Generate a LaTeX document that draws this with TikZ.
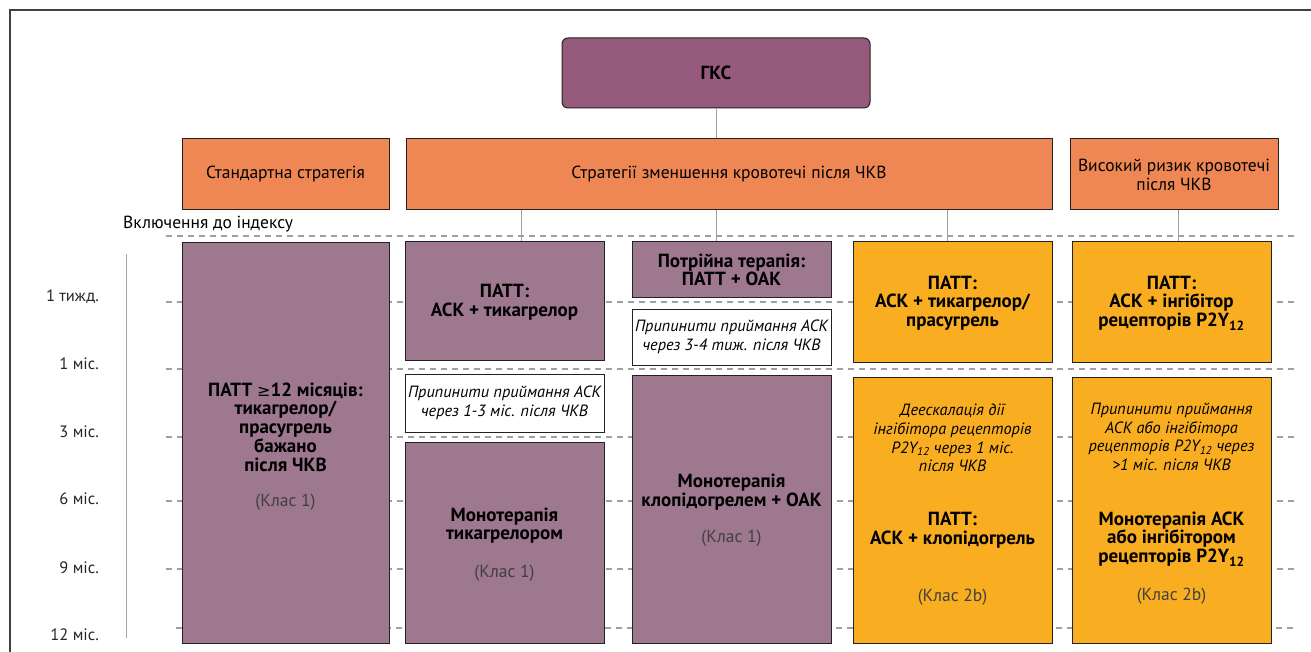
\documentclass[tikz,border=0pt]{standalone}
\usepackage{fontspec}
\setmainfont{PT Sans}
\newfontfamily\symf{DejaVu Sans}
\usetikzlibrary{fit}
\definecolor{gksc}{HTML}{965A7C}
\definecolor{purc}{HTML}{9D788F}
\definecolor{orac}{HTML}{EE8753}
\definecolor{yelc}{HTML}{F9AE21}
\definecolor{grc}{HTML}{A0A0A0}
\definecolor{edgec}{HTML}{222222}
\newcommand\subsc[1]{\textsubscript{#1}}
\tikzset{
 boxs/.style={draw=edgec, line width=1pt, inner sep=0pt},
 reg/.style={font=\fontsize{17.5}{19}\selectfont, align=center, inner sep=0pt},
 bld/.style={font=\fontsize{19}{18.7}\selectfont\bfseries, align=center, inner sep=0pt},
 itl/.style={font=\fontsize{16.3}{18.7}\selectfont\itshape, align=center, inner sep=0pt},
 cls/.style={font=\fontsize{17.5}{19}\selectfont, text=black!75, inner sep=0pt},
 tlab/.style={font=\fontsize{16.5}{19}\selectfont, text=black!85, anchor=east, inner sep=0pt},
 gridl/.style={draw=grc, line width=1.5pt, dash pattern=on 6pt off 5pt},
 conn/.style={draw=grc, line width=1pt},
}
\begin{document}
\begin{tikzpicture}[x=1pt,y=-1pt]
\useasboundingbox (0,0) rectangle (1311,652);
\fill[white] (0,0) rectangle (1311,652);
% frame
\draw[line width=1.5pt, draw=black!75] (10,652) -- (10,10) -- (1311,10);
% grid lines
\foreach \yy in {236,302,369,437,501,569} \draw[gridl] (166,\yy) -- (1296,\yy);
\draw[gridl] (176,628) -- (1296,628);
% time axis
\draw[conn, draw=black!35] (126,254) -- (126,638);
\node[tlab] (t1) at (99,297) {1 тижд.};
\node[tlab] (t2) at (99,364) {1 міс.};
\node[tlab] (t3) at (99,432) {3 міс.};
\node[tlab] (t4) at (99,499) {6 міс.};
\node[tlab] (t5) at (99,568) {9 міс.};
\node[tlab] (t6) at (99,635) {12 міс.};
\node[reg, anchor=west] (incl) at (123,224) {Включення до індексу};
% top boxes
\node[boxs, fill=gksc, rounded corners=6pt, fit={(562,38) (870,108)}] (gks) {};
\node[bld] at (gks.center) {ГКС};
\node[boxs, fill=orac, fit={(182,139) (389,210)}] (std) {};
\node[reg] at (std.center) {Стандартна стратегія};
\node[boxs, fill=orac, fit={(406,139) (1052,210)}] (red) {};
\node[reg] at (red.center) {Стратегії зменшення кровотечі після ЧКВ};
\node[boxs, fill=orac, fit={(1070,139) (1278,210)}] (hbr) {};
\node[reg] at (hbr.center) {Високий ризик кровотечі\\після ЧКВ};
% column boxes
\node[boxs, fill=purc, fit={(182,243) (389,643)}] (c1) {};
\node[boxs, fill=purc, fit={(405,242) (604,360)}] (c2a) {};
\node[boxs, fill=white, fit={(405,374) (604,432)}] (c2b) {};
\node[boxs, fill=purc, fit={(405,442) (604,643)}] (c2c) {};
\node[boxs, fill=purc, fit={(632,242) (831,297)}] (c3a) {};
\node[boxs, fill=white, fit={(632,309) (831,365)}] (c3b) {};
\node[boxs, fill=purc, fit={(632,375) (831,643)}] (c3c) {};
\node[boxs, fill=yelc, fit={(853,242) (1052,362)}] (c4a) {};
\node[boxs, fill=yelc, fit={(853,377) (1052,643)}] (c4b) {};
\node[boxs, fill=yelc, fit={(1072,242) (1271,362)}] (c5a) {};
\node[boxs, fill=yelc, fit={(1072,377) (1271,643)}] (c5b) {};
% connectors
\coordinate (xa) at (716,0);
\coordinate (xb) at (521,0);
\coordinate (xc) at (947,0);
\coordinate (xd) at (1178,0);
\draw[conn] (gks.south -| xa) -- (red.north -| xa);
\draw[conn] (red.south -| xb) -- (c2a.north -| xb);
\draw[conn] (red.south -| xa) -- (c3a.north -| xa);
\draw[conn] (red.south -| xc) -- (c4a.north -| xc);
\draw[conn] (hbr.south -| xd) -- (c5a.north -| xd);
% texts
\node[bld] (c1t) at (285.5,427) {ПАТТ {\symf\mdseries\fontsize{16}{18}\selectfont ≥}12 місяців:\\тикагрелор/\\прасугрель\\бажано\\після ЧКВ};
\node[cls] (c1k) at (285.5,502) {(Клас 1)};
\node[bld] (c2at) at (504.5,302) {ПАТТ:\\АСК + тикагрелор};
\node[itl] (c2bt) at (504.5,403) {Припинити приймання АСК\\через 1-3 міс. після ЧКВ};
\node[bld] (c2ct) at (504.5,525.5) {Монотерапія\\тикагрелором};
\node[cls] (c2ck) at (504.5,573) {(Клас 1)};
\node[bld] (c3at) at (731.5,270) {Потрійна терапія:\\ПАТТ + ОАК};
\node[itl] (c3bt) at (731.5,337) {Припинити приймання АСК\\через 3-4 тиж. після ЧКВ};
\node[bld] (c3ct) at (731.5,492) {Монотерапія\\клопідогрелем + ОАК};
\node[cls] (c3ck) at (731.5,538) {(Клас 1)};
\node[bld] (c4at) at (952.5,303) {ПАТТ:\\АСК + тикагрелор/\\прасугрель};
\node[itl] (c4bt) at (952.5,438) {Деескалація дії\\інгібітора рецепторів\\P2Y\subsc{12} через 1 міс.\\після ЧКВ};
\node[bld] (c4bb) at (952.5,530.5) {ПАТТ:\\АСК + клопідогрель};
\node[cls] (c4bk) at (952.5,597) {(Клас 2b)};
\node[bld] (c5at) at (1171.5,303) {ПАТТ:\\АСК + інгібітор\\рецепторів P2Y\subsc{12}};
\node[itl] (c5bt) at (1171.5,437) {Припинити приймання\\АСК або інгібітора\\рецепторів P2Y\subsc{12} через\\>1 міс. після ЧКВ};
\node[bld] (c5bb) at (1171.5,539) {Монотерапія АСК\\або інгібітором\\рецепторів P2Y\subsc{12}};
\node[cls] (c5bk) at (1171.5,596) {(Клас 2b)};
\end{tikzpicture}
\end{document}
